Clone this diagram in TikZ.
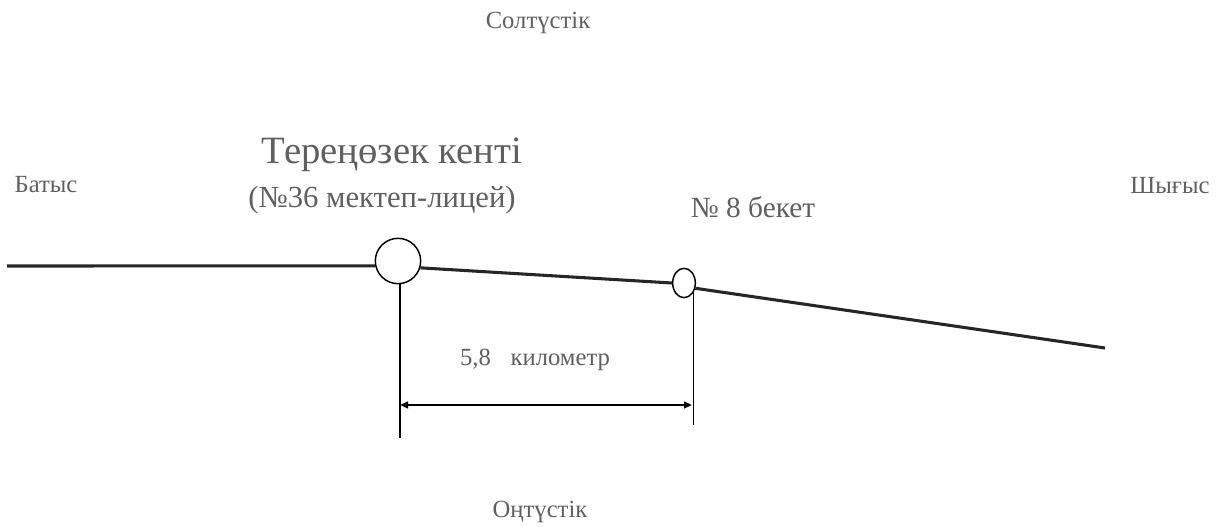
\documentclass[tikz,border=0pt]{standalone}
\usepackage{fontspec}
\setmainfont{Liberation Serif}
\usepackage{xcolor}
\definecolor{mapgray}{RGB}{95,95,95}
\usetikzlibrary{arrows.meta,shapes.geometric,positioning}

\begin{document}
\begin{tikzpicture}[x=0.75pt,y=-0.75pt,
  side/.style={font=\fontsize{18.5}{22}\selectfont, text=mapgray},
  road/.style={line width=2.3pt, black!85},
  thinline/.style={line width=1.1pt},
  dimline/.style={line width=2pt, {Triangle[open,length=6pt,width=5pt]}-{Triangle[open,length=6pt,width=5pt]}}]
  \useasboundingbox (0,0) rectangle (1218,527);

  % Compass labels
  \node[side] (north) at (538,23) {Солтүстік};
  \node[side] (west) at (46,185) {Батыс};
  \node[side] (east) at (1170,186) {Шығыс};
  \node[side] (south) at (540,512) {Оңтүстік};

  % Settlement and station
  \node[font=\fontsize{29}{34}\selectfont, text=mapgray] (tname) at (392,155) {Тереңөзек кенті};
  \node[font=\fontsize{23}{28}\selectfont, text=mapgray] (tschool) at (382,200) {(№36 мектеп-лицей)};
  \node[font=\fontsize{22}{26}\selectfont, text=mapgray] (bname) at (753,207) {№ 8 бекет};
  \node[circle, draw, thinline, minimum size=34pt, inner sep=0pt] (tereng) at (398,261) {};
  \node[ellipse, draw, thinline, minimum width=17pt, minimum height=22pt, inner sep=0pt] (beket) at (684,283) {};

  % Road
  \coordinate (rstart) at (7,266);
  \coordinate (rend) at (1105,348);
  \draw[road] (rstart) -- (tereng.192);
  \draw[road] (tereng.-17) -- (beket.west);
  \draw[road] (beket.-25) -- (rend);

  % Distance
  \coordinate (tfoot) at (400,438);
  \coordinate (bfoot) at (692,425);
  \draw[thinline] (tereng.-85) -- (tereng.-85 |- tfoot);
  \draw[thinline] (beket.-45) -- (beket.-45 |- bfoot);
  \coordinate (dleft) at (400,405);
  \coordinate (dright) at (692,405);
  \draw[dimline] (dleft) -- (dright);
  \node[side] (dist) at (535,360) {5,8\hspace{0.8em}километр};
\end{tikzpicture}
\end{document}
